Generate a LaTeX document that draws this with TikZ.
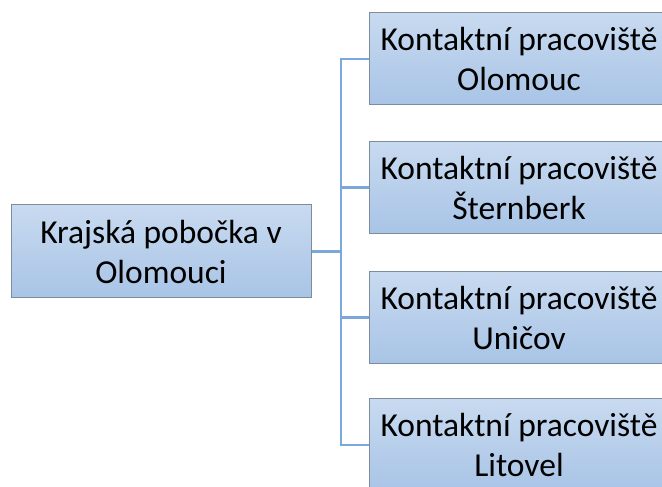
\documentclass[tikz,border=0pt]{standalone}
\usepackage{fontspec}
\setmainfont{Carlito}
\definecolor{boxtop}{HTML}{C8DAF0}
\definecolor{boxbot}{HTML}{A8C4E6}
\definecolor{boxedge}{HTML}{7F8C9C}
\definecolor{linkblue}{HTML}{7BA7DB}
\begin{document}
\begin{tikzpicture}[x=1pt,y=1pt,
  orgbox/.style={rectangle, draw=boxedge, line width=1pt, top color=boxtop, bottom color=boxbot,
    minimum width=300pt, align=center, inner sep=0pt,
    font=\fontsize{33.5}{40}\selectfont},
  link/.style={draw=linkblue, line width=2.6pt}]
\useasboundingbox (0,0) rectangle (662,487);
\clip (0,0) rectangle (662,487);
\node[orgbox, minimum height=93pt] (L) at (161,235.5) {Krajská pobočka v\\Olomouci};
\node[orgbox, minimum height=92pt] (R1) at (519,428) {Kontaktní pracoviště\\Olomouc};
\node[orgbox, minimum height=92pt] (R2) at (519,299.5) {Kontaktní pracoviště\\Šternberk};
\node[orgbox, minimum height=92pt] (R3) at (519,169.5) {Kontaktní pracoviště\\Uničov};
\node[orgbox, minimum height=92pt] (R4) at (519,42) {Kontaktní pracoviště\\Litovel};
\coordinate (J) at (341,235.5);
\draw[link] (L.east) -- (J);
\draw[link] (R1.west) -| (J) |- (R4.west);
\draw[link] (J) |- (R2.west);
\draw[link] (J) |- (R3.west);
\end{tikzpicture}
\end{document}
